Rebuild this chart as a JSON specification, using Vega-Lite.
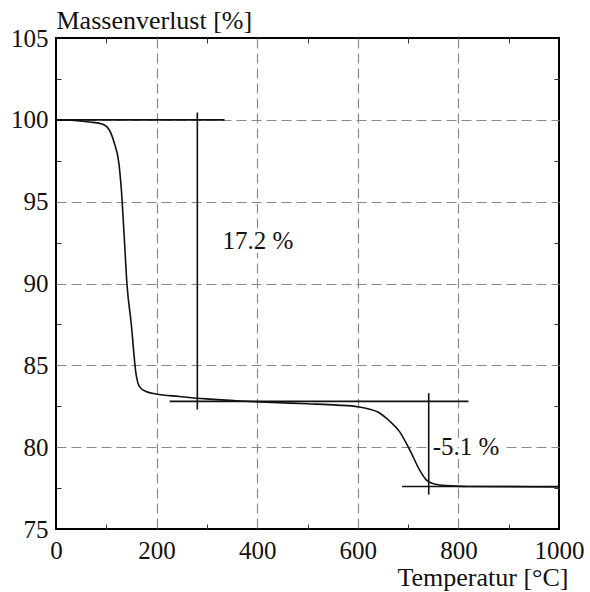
{
  "$schema": "https://vega.github.io/schema/vega-lite/v6.json",
  "autosize": {"type": "none"},
  "width": 503,
  "height": 491,
  "padding": {"left": 56, "top": 38, "right": 31, "bottom": 63},
  "background": "white",
  "config": {
    "view": {"stroke": "#000", "strokeWidth": 2},
    "font": "Liberation Serif",
    "axis": {
      "labelFont": "Liberation Serif",
      "labelFontSize": 25,
      "labelColor": "#111",
      "titleFont": "Liberation Serif",
      "titleFontSize": 26,
      "titleFontWeight": "normal",
      "titleColor": "#111",
      "domain": false,
      "tickColor": "#333",
      "tickWidth": 1,
      "gridColor": "#8a8a8a",
      "gridWidth": 1.2,
      "gridDash": [10, 5]
    }
  },
  "datasets": {
    "curve": [
      {"t": 0, "m": 100},
      {"t": 30, "m": 99.98},
      {"t": 67, "m": 99.87},
      {"t": 93, "m": 99.73},
      {"t": 106, "m": 99.38},
      {"t": 116, "m": 98.57},
      {"t": 125, "m": 97.35},
      {"t": 130, "m": 95.7},
      {"t": 136, "m": 92.66},
      {"t": 141, "m": 90.0},
      {"t": 149.5, "m": 87.57},
      {"t": 159, "m": 84.5},
      {"t": 166, "m": 83.7},
      {"t": 179, "m": 83.4},
      {"t": 199, "m": 83.25},
      {"t": 245, "m": 83.1},
      {"t": 299, "m": 82.95},
      {"t": 365, "m": 82.82},
      {"t": 430, "m": 82.73},
      {"t": 500, "m": 82.65},
      {"t": 560, "m": 82.57},
      {"t": 600, "m": 82.47},
      {"t": 620, "m": 82.35},
      {"t": 640, "m": 82.15},
      {"t": 663, "m": 81.6},
      {"t": 683, "m": 80.95},
      {"t": 703, "m": 79.85},
      {"t": 723, "m": 78.6},
      {"t": 736, "m": 78.0},
      {"t": 749, "m": 77.78},
      {"t": 776, "m": 77.65},
      {"t": 820, "m": 77.6},
      {"t": 1000, "m": 77.57}
    ],
    "steps": [
      {"t1": 0, "t2": 335, "m1": 100, "m2": 100},
      {"t1": 281, "t2": 281, "m1": 82.3, "m2": 100.45},
      {"t1": 226, "t2": 820, "m1": 82.8, "m2": 82.8},
      {"t1": 741, "t2": 741, "m1": 77.1, "m2": 83.3},
      {"t1": 688, "t2": 1000, "m1": 77.6, "m2": 77.6}
    ],
    "notes": [
      {"t": 331, "m": 92.1, "label": "17.2 %"},
      {"t": 749, "m": 79.53, "label": "-5.1 %"}
    ]
  },
  "layer": [
    {
      "data": {"name": "notes"},
      "mark": {"type": "text", "align": "left", "baseline": "alphabetic", "font": "Liberation Serif", "fontSize": 25, "stroke": "white", "strokeWidth": 8, "fill": "white"},
      "encoding": {
        "x": {"field": "t", "type": "quantitative", "scale": {"domain": [0, 1000], "nice": false},
          "axis": {
            "orient": "bottom",
            "values": [0, 100, 200, 300, 400, 500, 600, 700, 800, 900, 1000],
            "labelExpr": "datum.value % 200 === 0 ? datum.value : ''",
            "tickSize": -5,
            "tickOpacity": {"condition": {"test": "datum.value % 200 !== 0", "value": 1}, "value": 0},
            "gridOpacity": {"condition": {"test": "datum.value % 200 === 0 && datum.value > 0 && datum.value < 1000", "value": 1}, "value": 0},
            "labelPadding": 14,
            "labelFlush": false,
            "labelOverlap": false,
            "title": "Temperatur [°C]",
            "titleX": 512,
            "titleY": 56,
            "titleAlign": "right",
            "titleAnchor": null,
            "titleBaseline": "alphabetic"
          }},
        "y": {"field": "m", "type": "quantitative", "scale": {"domain": [75, 105], "nice": false, "zero": false},
          "axis": {
            "orient": "left",
            "values": [75, 77.5, 80, 82.5, 85, 87.5, 90, 92.5, 95, 97.5, 100, 102.5, 105],
            "labelExpr": "datum.value % 5 === 0 ? datum.value : ''",
            "tickSize": -5,
            "tickOpacity": {"condition": {"test": "datum.value % 5 !== 0", "value": 1}, "value": 0},
            "gridOpacity": {"condition": {"test": "datum.value % 5 === 0 && datum.value > 75 && datum.value < 105", "value": 1}, "value": 0},
            "labelPadding": 13,
            "labelFlush": false,
            "labelOverlap": false,
            "title": "Massenverlust [%]",
            "titleAngle": 0,
            "titleX": 0,
            "titleY": -10,
            "titleAlign": "left",
            "titleAnchor": null,
            "titleBaseline": "alphabetic"
          }},
        "text": {"field": "label"}
      }
    },
    {
      "data": {"name": "curve"},
      "mark": {"type": "line", "color": "#111", "strokeWidth": 1.6, "interpolate": "monotone"},
      "encoding": {
        "x": {"field": "t", "type": "quantitative", "scale": {"domain": [0, 1000], "nice": false},
          "axis": {"orient": "top", "values": [100, 300, 500, 700, 900], "labels": false, "grid": false, "tickSize": -5, "title": null}},
        "y": {"field": "m", "type": "quantitative", "scale": {"domain": [75, 105], "nice": false, "zero": false},
          "axis": {"orient": "right", "values": [77.5, 82.5, 87.5, 92.5, 97.5, 102.5], "labels": false, "grid": false, "tickSize": -5, "title": null}}
      }
    },
    {
      "data": {"name": "steps"},
      "mark": {"type": "rule", "color": "#111", "strokeWidth": 1.6},
      "encoding": {
        "x": {"field": "t1", "type": "quantitative", "scale": {"domain": [0, 1000], "nice": false}, "axis": null},
        "x2": {"field": "t2"},
        "y": {"field": "m1", "type": "quantitative", "scale": {"domain": [75, 105], "nice": false, "zero": false}, "axis": null},
        "y2": {"field": "m2"}
      }
    },
    {
      "data": {"name": "notes"},
      "mark": {"type": "text", "align": "left", "baseline": "alphabetic", "font": "Liberation Serif", "fontSize": 25, "color": "#111"},
      "encoding": {
        "x": {"field": "t", "type": "quantitative", "scale": {"domain": [0, 1000], "nice": false}, "axis": null},
        "y": {"field": "m", "type": "quantitative", "scale": {"domain": [75, 105], "nice": false, "zero": false}, "axis": null},
        "text": {"field": "label"}
      }
    }
  ],
  "resolve": {"axis": {"x": "independent", "y": "independent"}}
}
